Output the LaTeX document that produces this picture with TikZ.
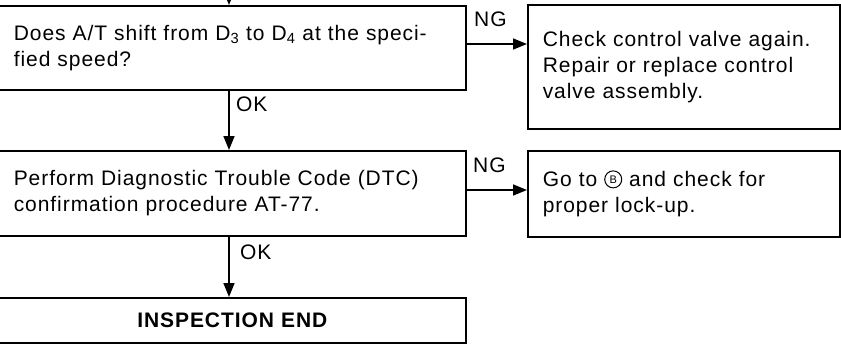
\documentclass[tikz,border=0pt]{standalone}
\usepackage{fontspec}
\setmainfont{Liberation Sans}[LetterSpace=4.5]
\usetikzlibrary{arrows.meta}
\tikzset{
  box/.style={draw, line width=1.6pt, rectangle, anchor=north west, inner xsep=15pt, inner ysep=0pt,
    align=left, font=\fontsize{21pt}{26pt}\selectfont},
  flow/.style={line width=1.6pt, -{Triangle[length=14pt,width=11pt]}},
  lbl/.style={font=\fontsize{21pt}{24pt}\selectfont, inner sep=0pt},
  circB/.style={draw, circle, line width=1pt, inner sep=0pt, minimum size=17pt,
    font=\fontsize{11pt}{11pt}\selectfont}
}
\newcommand{\circB}{\tikz[baseline={([yshift=1.5pt]cb.south)}]\node[circB](cb){B};}
\begin{document}
\begin{tikzpicture}[x=1pt,y=-1pt]
\useasboundingbox (0,0) rectangle (841,354);
\node[box, minimum width=467pt, minimum height=84pt, text width=437pt] (b1) at (-2,5)
  {Does A/T shift from D\textsubscript{3} to D\textsubscript{4} at the speci-\\fied speed?};
\node[box, minimum width=467pt, minimum height=85pt, text width=437pt] (b2) at (-2,150)
  {Perform Diagnostic Trouble Code (DTC)\\confirmation procedure AT-77.};
\node[box, minimum width=467pt, minimum height=45pt, text width=437pt, align=center,
  font=\fontsize{21pt}{26pt}\selectfont\bfseries] (b5) at (-2,297) {INSPECTION END};
\node[box, minimum width=312pt, minimum height=124pt, text width=282pt] (b3) at (527,4)
  {Check control valve again.\\Repair or replace control\\valve assembly.};
\node[box, minimum width=312pt, minimum height=86pt, text width=282pt] (b4) at (527,150)
  {Go to \circB{} and check for\\proper lock-up.};
\coordinate (top) at (229,-20);
\draw[flow] (top) -- (b1.north -| top);
\draw[flow] (b1.south -| top) -- (b2.north -| top);
\draw[flow] (b2.south -| top) -- (b5.north -| top);
\draw[flow] (b1.east |- 0,44) -- (b3.west |- 0,44);
\draw[flow] (b2.east |- 0,190) -- (b4.west |- 0,190);
\node[lbl, anchor=west] (ok1) at (236,104) {OK};
\node[lbl, anchor=west] (ok2) at (240,252) {OK};
\node[lbl, anchor=west] (ng1) at (474,19) {NG};
\node[lbl, anchor=west] (ng2) at (473,165) {NG};
\end{tikzpicture}
\end{document}
